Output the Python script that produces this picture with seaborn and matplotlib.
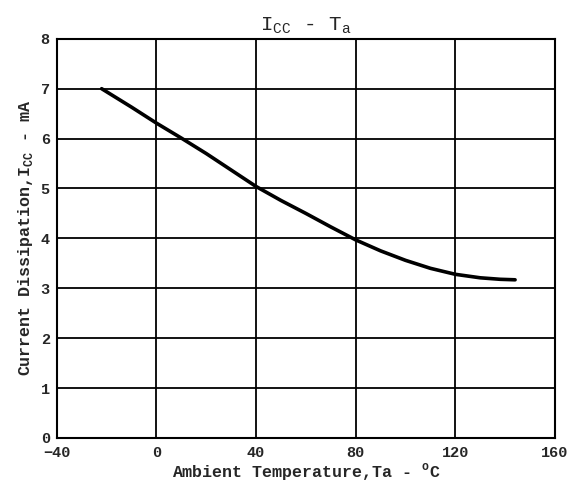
"""
Icc vs ambient temperature characteristic curve.
"""

import matplotlib
matplotlib.use("Agg")
import matplotlib.pyplot as plt
import pandas as pd
import seaborn as sns

# values
temp_c = [-22, -10, 0, 10, 20, 30, 40, 50, 60, 70, 80, 90, 100, 110, 120, 130, 138, 144]
icc_ma = [7.0, 6.63, 6.31, 6.01, 5.70, 5.37, 5.04, 4.76, 4.50, 4.23, 3.97, 3.75, 3.56, 3.40, 3.28, 3.21, 3.18, 3.17]

x_ticks = [-40, 0, 40, 80, 120, 160]
y_ticks = [0, 1, 2, 3, 4, 5, 6, 7, 8]


def setup_style() -> None:
    sns.set_theme(style="white", rc={"axes.edgecolor": "black", "axes.linewidth": 1.5})
    plt.rcParams["font.family"] = ["Liberation Mono", "DejaVu Sans Mono"]
    plt.rcParams["mathtext.fontset"] = "custom"
    plt.rcParams["mathtext.rm"] = "Liberation Mono"


def main() -> None:
    setup_style()
    df = pd.DataFrame({"temp": temp_c, "icc": icc_ma})

    fig = plt.figure(figsize=(5.68, 4.91), dpi=100)
    ax = fig.add_axes([0.100, 0.108, 0.877, 0.813])

    sns.lineplot(data=df, x="temp", y="icc", color="black", linewidth=2.6, ax=ax)

    ax.set_xlim(-40, 160)
    ax.set_ylim(0, 8)
    ax.set_xticks(x_ticks)
    ax.set_yticks(y_ticks)
    ax.grid(True, color="black", linewidth=1.3)
    ax.tick_params(length=0, labelsize=11)
    ax.tick_params(axis="x", pad=6)
    ax.tick_params(axis="y", pad=5)
    for lbl in ax.get_xticklabels() + ax.get_yticklabels():
        lbl.set_fontweight("bold")

    ax.set_title(r"I$_{\mathregular{CC}}$ - T$_{\mathregular{a}}$", fontsize=15, pad=6)
    ax.set_xlabel(r"Ambient Temperature,Ta - $^{\mathregular{o}}$C",
                  fontsize=12, fontweight="bold", labelpad=1)
    ax.set_ylabel(r"Current Dissipation,I$_{\mathregular{CC}}$ - mA",
                  fontsize=12, fontweight="bold", labelpad=4)

    fig.savefig("out.png", dpi=100)
    plt.close(fig)


if __name__ == "__main__":
    main()
